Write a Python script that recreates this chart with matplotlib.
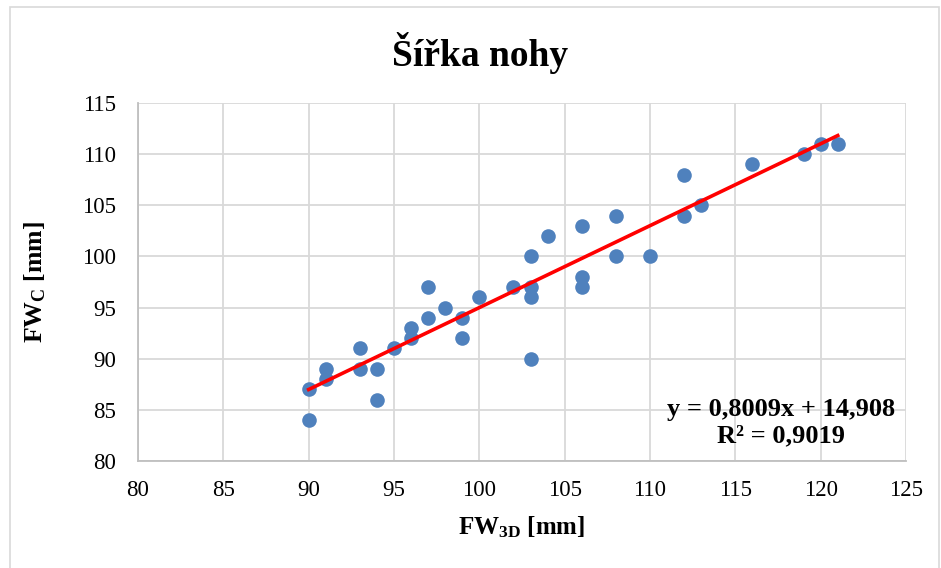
import matplotlib
matplotlib.use("Agg")
import matplotlib.pyplot as plt
from matplotlib.patches import Rectangle
import numpy as np

# Data (FW_3D vs FW_C in mm)
fw_3d = [90, 90, 91, 91, 93, 93, 94, 94, 95, 96, 96, 97, 97, 98, 99, 99, 100,
         102, 103, 103, 103, 103, 104, 106, 106, 106, 108, 108, 110, 112, 112,
         113, 116, 119, 120, 121]
fw_c = [87, 84, 89, 88, 91, 89, 89, 86, 91, 93, 92, 97, 94, 95, 94, 92, 96,
        97, 100, 97, 96, 90, 102, 103, 98, 97, 104, 100, 100, 108, 104,
        105, 109, 110, 111, 111]
slope = 0.8009
intercept = 14.908
r2_text = "0,9019"
x_ticks = [80, 85, 90, 95, 100, 105, 110, 115, 120, 125]
y_ticks = [80, 85, 90, 95, 100, 105, 110, 115]

plt.rcParams['font.family'] = ['Liberation Serif', 'DejaVu Serif']
plt.rcParams['mathtext.fontset'] = 'custom'
plt.rcParams['mathtext.rm'] = 'Liberation Serif:bold'
plt.rcParams['mathtext.bf'] = 'Liberation Serif:bold'
plt.rcParams['mathtext.it'] = 'Liberation Serif:bold'

W, H = 941, 568
fig = plt.figure(figsize=(W / 100, H / 100), dpi=100)
fig.patch.set_facecolor('white')

# outer chart border
fig.patches.append(Rectangle((10 / W, -0.05), 929 / W, 1 - 7 / H + 0.05,
                             transform=fig.transFigure, fill=False,
                             edgecolor='#d9d9d9', linewidth=1.2))

ax = fig.add_axes([138 / W, 1 - 461 / H, (906 - 138) / W, (461 - 103) / H])
ax.set_xlim(80, 125)
ax.set_ylim(80, 115)
ax.set_xticks(x_ticks)
ax.set_yticks(y_ticks)
ax.grid(True, color='#d9d9d9', linewidth=1.3)
ax.set_axisbelow(True)
for s in ['top', 'right']:
    ax.spines[s].set_visible(False)
for s in ['left', 'bottom']:
    ax.spines[s].set_color('#bfbfbf')
    ax.spines[s].set_linewidth(1.3)
ax.tick_params(length=0, labelsize=16.5, colors='black')
ax.tick_params(axis='y', pad=16)
ax.tick_params(axis='x', pad=14)

ax.plot(fw_3d, fw_c, 'o', color='#4f81bd', markersize=10.5,
        markeredgewidth=0, zorder=3)

xl = np.array([min(fw_3d), max(fw_3d)])
ax.plot(xl, slope * xl + intercept, color='#ff0000', linewidth=2.6, zorder=4)

ax.text((781 - 138) / (906 - 138), (461 - 422.5) / (461 - 103),
        "y = 0,8009x + 14,908\nR² = " + r2_text, transform=ax.transAxes,
        ha='center', va='center', multialignment='center',
        fontsize=19, fontweight='bold', linespacing=1.2, zorder=5)

fig.text(480 / W, 1 - 66 / H, "Šířka nohy", ha='center', va='baseline',
         fontsize=27, fontweight='bold')
fig.text(522 / W, 1 - 527 / H, r"$\mathbf{FW}_{\mathbf{3D}}$ [mm]",
         ha='center', va='center', fontsize=18, fontweight='bold')
fig.text(35 / W, 1 - 282 / H, r"$\mathbf{FW}_{\mathbf{C}}$ [mm]",
         ha='center', va='center', fontsize=18.5, fontweight='bold',
         rotation=90)

fig.savefig('out.png', dpi=100)
